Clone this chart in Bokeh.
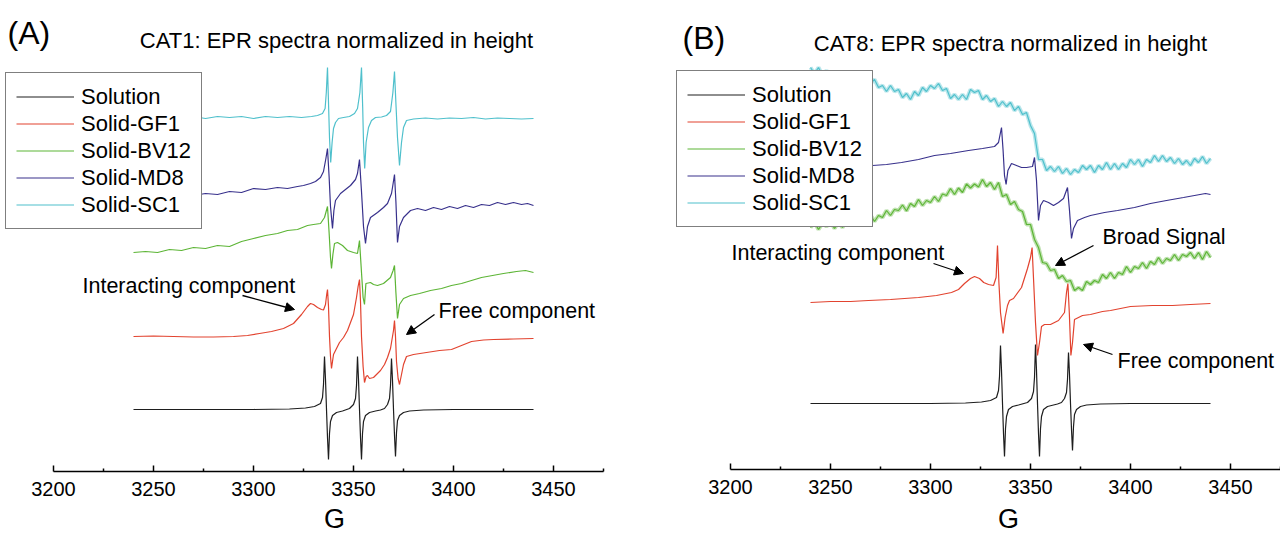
import numpy as np
from bokeh.plotting import figure
from bokeh.layouts import row
from bokeh.models import Range1d, FixedTicker, Label, Arrow, NormalHead, Legend, LegendItem
from bokeh.embed import file_html
from bokeh.resources import INLINE

FONT = "Liberation Sans"
series_names = ["Solution", "Solid-GF1", "Solid-BV12", "Solid-MD8", "Solid-SC1"]
colors = ["#1e1e1e", "#e2432f", "#5db536", "#38318c", "#4fc0cc"]
major_ticks = [3200, 3250, 3300, 3350, 3400, 3450]
minor_ticks = [3225, 3275, 3325, 3375, 3425, 3475]
axis_bounds = (3200, 3475)

# ---------------- Panel A (CAT1) : field (G) and intensity (a.u.) ----------------
a_sol_x = [3240, 3300, 3318, 3326, 3330.5, 3333.5, 3334.5, 3335, 3335.5, 3336, 3336.5, 3337, 3337.5, 3338, 3338.5,
           3339.5, 3341.5, 3344.5, 3348, 3350, 3351, 3351.5, 3352, 3352.5, 3353, 3353.5, 3354, 3354.5, 3355, 3356,
           3358, 3361, 3363.5, 3365.5, 3367, 3368, 3368.5, 3369, 3369.5, 3370, 3370.5, 3371, 3371.5, 3372, 3373,
           3375, 3378, 3385, 3400, 3440]
a_sol_y = [0, 0, 0.5, 1.5, 3, 6, 12, 25, 53, 30, 0, -28, -50, -24, -12,
           -6, -3, -1.5, 1, 5, 11, 24, 53, 30, 0, -28, -50, -24, -12, -6,
           -3, -1.5, -0.5, 1, 5, 11, 24, 51, 29, 0, -26, -47, -23, -11, -6,
           -3, -1.5, -0.5, 0, 0]

a_gf1_x = [3240, 3250, 3260, 3270, 3280, 3290, 3297, 3303, 3309, 3315, 3320, 3324, 3327, 3328.5, 3330,
           3332, 3334, 3335, 3336, 3336.6, 3337, 3337.5, 3338, 3338.5, 3339, 3339.5, 3340, 3341, 3343, 3345,
           3347, 3348.5, 3350, 3351.5, 3352.3, 3353, 3353.5, 3354, 3354.8, 3355.5, 3356.3, 3357, 3358, 3360, 3363.5,
           3365.5, 3367, 3368.5, 3369.5, 3370, 3370.5, 3371, 3371.5, 3372.3, 3373, 3374, 3375, 3376.5, 3380, 3386.5,
           3393, 3399, 3404, 3409, 3415, 3420, 3430, 3440]
a_gf1_y = [0, 0.5, 0, -0.5, -0.5, 0, 1, 3, 5, 8, 13, 22, 30, 33, 32,
           29, 27, 26.5, 32, 42, 47, 30, 0, -20, -32, -25, -18, -14, -6, -1,
           6, 14, 22, 39, 50, 57, 35, 0, -30, -46, -40, -39, -42, -41, -34,
           -28, -21, -12, 0, 6, 16, 0, -25, -42, -48, -38, -28, -20, -18, -16,
           -14, -13, -9, -5, -3.5, -3, -2.5, -2]

a_bv12_x = [3240, 3246, 3252, 3258, 3264, 3270, 3276, 3282, 3288, 3294, 3300, 3306, 3312, 3317, 3322,
            3327, 3330, 3333.5, 3335.5, 3337, 3337.8, 3338.5, 3339, 3339.7, 3340.5, 3342, 3344.5, 3347, 3350, 3352,
            3353, 3354, 3354.8, 3355.5, 3356.2, 3358.5, 3360, 3362, 3365, 3368.5, 3369.8, 3370.5, 3371.2, 3372, 3373,
            3375, 3378.5, 3383, 3388.5, 3394, 3399, 3404, 3409, 3414, 3419.5, 3425, 3431.5, 3436, 3440]
a_bv12_y = [0, 1, 0, 3, 2, 5, 4, 7, 6, 11, 14, 17, 19, 22, 23,
            27, 28, 29, 35, 46, 20, -5, -16, -2, 9, 10, 7, 2, 0, -1,
            12, -20, -45, -52, -31, -30, -32, -33, -31, -25, -18, -13, -40, -66, -52,
            -46, -43, -41, -38, -36, -33, -31, -28, -25, -23, -21, -19, -18, -20]

a_md8_x = [3240, 3248, 3256, 3264, 3270, 3276, 3282, 3288, 3294, 3300, 3306, 3312, 3317, 3322, 3325,
           3328.5, 3331, 3333.5, 3335, 3336.2, 3337, 3337.8, 3338.5, 3339.5, 3340.2, 3341, 3343.5, 3346, 3348.5, 3351,
           3352, 3353, 3354, 3355, 3356, 3357, 3358.5, 3362, 3365, 3367, 3369, 3369.5, 3370.5, 3371.2, 3372,
           3373, 3375, 3378.5, 3382, 3386, 3390, 3394, 3398, 3402, 3406, 3410, 3414, 3418, 3422, 3426,
           3430, 3434, 3437, 3440]
a_md8_y = [0, 1, 0, 2, 1, 3, 2, 5, 4, 8, 7, 9, 8, 10, 11,
           13, 15, 19, 25, 38, 48, 20, -10, -32, -14, -4, 3, 7, 11, 17,
           23, 37, 5, -30, -47, -30, -21, -16, -11, -7, 3, 9, 22, -5, -46,
           -30, -21, -14, -12, -14, -11, -13, -10, -12, -9, -11, -8, -9, -6, -8,
           -6, -8, -7, -9]

a_sc1_x = [3240, 3250, 3260, 3270, 3276, 3282, 3288, 3294, 3300, 3306, 3312, 3318, 3324, 3329, 3332,
           3334.5, 3335.8, 3336.4, 3337, 3337.5, 3338, 3338.6, 3339.3, 3340, 3341, 3342.5, 3345, 3348, 3350.5, 3352,
           3353.2, 3354, 3354.6, 3355, 3355.6, 3356.3, 3357.5, 3359, 3361, 3364, 3366.5, 3368.5, 3369.7, 3370.5, 3371.3,
           3372, 3373, 3374, 3375, 3376.5, 3380, 3386, 3392, 3398, 3404, 3410, 3416, 3422, 3428, 3434, 3440]
a_sc1_y = [0, 1, 0, 1, -1, 1, 0, 1, -1, 1, 0, 1, 0, 1, 2,
           4, 9, 25, 50, 15, -20, -45, -25, -11, -5, -1, 0, 1, 4, 9,
           25, 50, 10, -25, -51, -25, -10, -3, 0, 0.5, 2, 6, 25, 46, 10,
           -20, -48, -25, -10, -3, -1.5, -0.5, -1.5, -0.5, -1, 0, -1.5, -0.5, -1, -1.5, -1]

offsets_a = [62, 135, 219, 275, 354]

# ---------------- Panel B (CAT8) ----------------
b_sol_x = [3240, 3300, 3317.5, 3325.5, 3330, 3333, 3334, 3334.5, 3335, 3335.5, 3336, 3336.5, 3337, 3337.5, 3338,
           3339, 3341, 3344, 3348.5, 3350.5, 3351.5, 3352, 3352.5, 3353, 3353.5, 3354, 3354.5, 3355, 3355.5, 3356.5,
           3358.5, 3361.5, 3363.5, 3365.5, 3367, 3368, 3368.5, 3369, 3369.5, 3370, 3370.5, 3371, 3371.5, 3372, 3373,
           3375, 3378, 3385, 3400, 3440]
b_sol_y = [0, 0, 0.5, 1.5, 3, 6, 13, 27, 58, 33, 0, -30, -53, -25, -13,
           -6, -3, -1.5, 1, 5, 12, 26, 59, 33, 0, -30, -53, -25, -13, -6,
           -3, -1.5, -0.5, 1, 5, 11, 24, 51, 29, 0, -26, -47, -23, -11, -6,
           -3, -1.5, -0.5, 0, 0]

b_gf1_x = [3240, 3250, 3260, 3269, 3280, 3294, 3303, 3310.5, 3314, 3317, 3320, 3322, 3324.5, 3326.6, 3329,
           3331.5, 3332.8, 3333.5, 3334.2, 3335, 3336.3, 3337.3, 3338.5, 3339.5, 3341.5, 3345.5, 3348.5, 3350, 3350.8, 3351.6,
           3352.5, 3353.5, 3354.5, 3355.5, 3357, 3360, 3364, 3367, 3368, 3368.7, 3369.4, 3370.2, 3371, 3372, 3376,
           3380, 3386, 3390, 3400, 3411, 3421, 3430, 3440]
b_gf1_y = [0, 1, 1, 2, 3, 5, 7, 10, 13, 19, 24, 26, 24, 20, 18,
           17, 25, 57, 20, -10, -31, -15, -3, 2, 4, 15, 34, 45, 55, 20,
           -20, -53, -40, -24, -22, -22, -18, -10, 10, 19, -10, -53, -40, -17, -13,
           -12, -9, -8, -4, -3, -3, -2, -1]

b_bv12_x = list(range(3240, 3441, 2))
b_bv12_y = [-2, 3, -4, 2, -1, 4, -3, 3, -2, 6,
            1.5, 5, 2, 10, 5, 10.5, 4, 10, 8, 15,
            10, 16, 15, 20.5, 14.5, 22, 19, 26, 20, 25,
            23, 29, 24, 31.5, 30, 37, 31, 37.5, 33, 41.5,
            37.5, 41.5, 38.5, 46, 39, 43, 36, 43, 29, 31,
            21, 24, 16, 14, 1, 1, -14, -22, -37, -38,
            -45, -44, -53, -50, -56, -55, -65, -62, -65, -56,
            -59, -55, -57, -49, -53, -47, -53, -47, -49, -41,
            -47, -41, -43, -37, -43, -36, -39, -32, -38, -33,
            -35, -29, -35, -29, -31, -27, -33, -27, -34, -26,
            -32]

b_md8_x = [3240, 3255, 3271, 3278, 3285.5, 3294, 3302, 3310, 3319, 3326, 3332, 3334, 3335.5, 3336.3, 3337,
           3337.8, 3338.7, 3340.5, 3343, 3345.5, 3348, 3351, 3352, 3353, 3354, 3355, 3356.5, 3359, 3361.5, 3364,
           3366.5, 3368.5, 3369.5, 3370.5, 3371.5, 3373.5, 3377, 3380, 3387, 3393.5, 3402, 3410, 3418, 3426.5, 3432,
           3437.5, 3440]
b_md8_y = [0, 2, 5, 6, 8, 11, 15, 17, 20, 22, 24, 28, 43, 20, -5,
           -14, 0, 7, 5, 3, 3, 4, 13, -10, -50, -35, -30, -32, -35, -32,
           -28, -17, -40, -68, -58, -50, -47, -45, -42, -40, -37, -33, -30, -27, -25,
           -23, -24]

b_sc1_x = list(range(3240, 3441, 2))
b_sc1_y = [3, -3, 3, -5, 0, -7, -2, -7, -1, -6,
           -3, -11, -6, -11, -5, -13, -9, -17, -15, -21,
           -15, -21, -19, -27, -23, -29, -21, -25, -17, -21,
           -15, -18, -13, -20, -18, -28, -24, -29, -24, -29,
           -19, -22, -20, -29, -25, -31, -28, -36, -31, -36,
           -32, -40, -36, -44, -42, -55, -63, -89, -89, -100,
           -96, -101, -96, -103, -98, -104, -99, -102, -95, -99,
           -95, -102, -95, -99, -92, -99, -93, -99, -93, -97,
           -89, -94, -89, -96, -89, -92, -85, -91, -85, -91,
           -87, -93, -88, -94, -90, -95, -88, -92, -86, -93,
           -88]

offsets_b = [66, 167, 244, 299, 399]

traces_a = [(a_sol_x, a_sol_y), (a_gf1_x, a_gf1_y), (a_bv12_x, a_bv12_y), (a_md8_x, a_md8_y), (a_sc1_x, a_sc1_y)]
traces_b = [(b_sol_x, b_sol_y), (b_gf1_x, b_gf1_y), (b_bv12_x, b_bv12_y), (b_md8_x, b_md8_y), (b_sc1_x, b_sc1_y)]
for tx, ty in traces_a + traces_b:
    assert len(tx) == len(ty), (len(tx), len(ty))


def make_panel(traces, offsets, xr, yr, letter_pos, letter, title_pos, title,
               notes, arrows, g_pos, legend_loc, noisy):
    p = figure(width=640, height=534, x_range=Range1d(*xr), y_range=Range1d(*yr),
               output_backend="svg", toolbar_location=None, y_axis_location=None,
               min_border_left=0, min_border_right=0, min_border_top=0, min_border_bottom=0)
    p.xgrid.visible = False
    p.ygrid.visible = False
    p.outline_line_color = None
    p.background_fill_color = "white"
    p.border_fill_color = "white"

    ax = p.xaxis[0]
    ax.fixed_location = 0
    ax.bounds = axis_bounds
    ax.ticker = FixedTicker(ticks=major_ticks, minor_ticks=minor_ticks)
    ax.axis_line_width = 1.5
    ax.axis_line_color = "black"
    ax.major_tick_in = 6
    ax.major_tick_out = 0
    ax.minor_tick_in = 3
    ax.minor_tick_out = 0
    ax.major_tick_line_width = 1.5
    ax.minor_tick_line_width = 1.5
    ax.major_tick_line_color = "black"
    ax.minor_tick_line_color = "black"
    ax.major_label_text_font = FONT
    ax.major_label_text_font_size = "20px"
    ax.major_label_text_color = "black"
    ax.major_label_standoff = 10

    rends = []
    for i, ((tx, ty), off, col) in enumerate(zip(traces, offsets, colors)):
        yy = [v + off for v in ty]
        if noisy[i]:
            p.line(tx, yy, line_color=col, line_width=4.0, line_alpha=0.4)
            r = p.line(tx, yy, line_color=col, line_width=1.2)
        else:
            r = p.line(tx, yy, line_color=col, line_width=1.2)
        rends.append(r)

    items = [LegendItem(label=n, renderers=[r]) for n, r in zip(series_names, rends)]
    leg = Legend(items=items, location=legend_loc, label_text_font=FONT, label_text_font_size="22px",
                 label_text_color="black", glyph_width=58, glyph_height=27, label_height=27,
                 label_standoff=7, spacing=0, padding=10, margin=0,
                 border_line_color="black", border_line_width=1.2,
                 background_fill_color="white", background_fill_alpha=1.0)
    p.add_layout(leg)

    p.add_layout(Label(x=letter_pos[0], y=letter_pos[1], text=letter, text_font=FONT, text_font_size="32px",
                       text_align="left", text_baseline="middle", text_color="black"))
    p.add_layout(Label(x=title_pos[0], y=title_pos[1], text=title, text_font=FONT, text_font_size="22px",
                       text_align="center", text_baseline="middle", text_color="black"))
    for (nx, ny, txt) in notes:
        p.add_layout(Label(x=nx, y=ny, text=txt, text_font=FONT, text_font_size="21.5px",
                           text_align="left", text_baseline="middle", text_color="black"))
    for (x0, y0, x1, y1) in arrows:
        p.add_layout(Arrow(end=NormalHead(size=9, fill_color="black", line_color="black", line_width=1),
                           x_start=x0, y_start=y0, x_end=x1, y_end=y1,
                           line_color="black", line_width=1.3))
    p.add_layout(Label(x=g_pos[0], y=g_pos[1], text="G", text_font=FONT, text_font_size="27px",
                       text_align="center", text_baseline="middle", text_color="black"))
    return p


pA = make_panel(traces_a, offsets_a, (3173.5, 3493.5), (-63, 471),
                (3177, 439), "(A)", (3341.5, 431), "CAT1: EPR spectra normalized in height",
                [(3214.5, 186, "Interacting component"), (3392.5, 161, "Free component")],
                [(3294.5, 176, 3320.5, 162), (3390.5, 157, 3376.5, 137)],
                (3340.5, -47), (5, 305), [False, False, False, False, False])

pB = make_panel(traces_b, offsets_b, (3155, 3475), (-65, 469),
                (3176, 432), "(B)", (3340, 426), "CAT8: EPR spectra normalized in height",
                [(3200.5, 217, "Interacting component"), (3386, 233, "Broad Signal"),
                 (3393.5, 109, "Free component")],
                [(3301.5, 206, 3316.5, 196), (3381.5, 224, 3362.5, 204), (3391, 115, 3376.5, 125)],
                (3339, -49), (36, 307), [False, False, True, False, True])

layout = row(pA, pB)
open("out.html", "w").write(file_html(layout, INLINE))
